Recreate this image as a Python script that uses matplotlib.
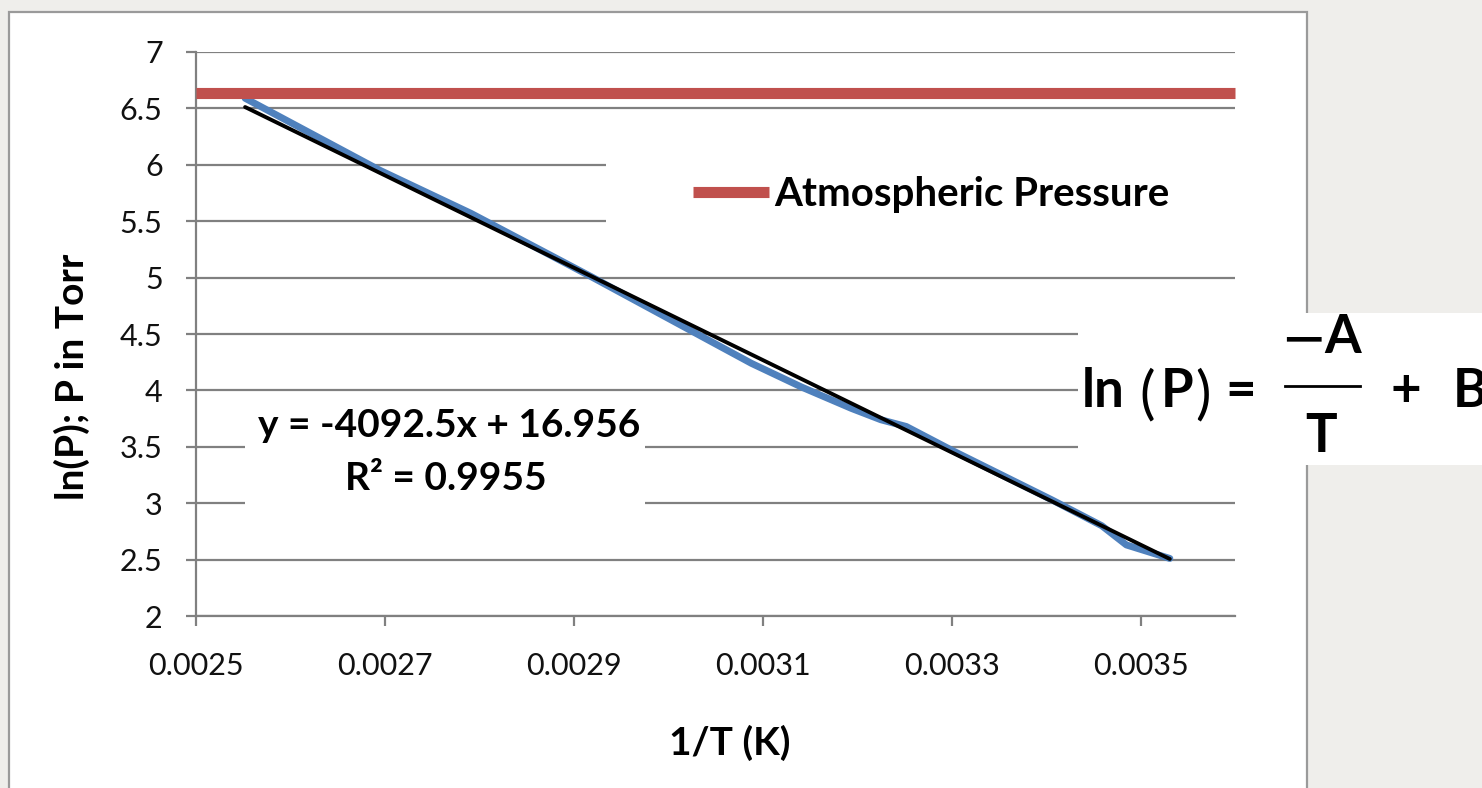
import matplotlib.pyplot as plt
from matplotlib.patches import Rectangle
from matplotlib.lines import Line2D
import numpy as np

W, H = 1482, 788

# measured vapor-pressure data: 1/T (1/K) and ln(P), P in Torr
inv_T = [0.002552, 0.002695, 0.002791, 0.002918, 0.003088, 0.003141, 0.003194,
         0.003225, 0.003252, 0.003300, 0.003406, 0.003459, 0.003485, 0.003531]
ln_P = [6.59, 5.95, 5.57, 5.01, 4.24, 4.03, 3.84,
        3.74, 3.68, 3.47, 3.03, 2.80, 2.63, 2.51]

# linear trendline from the chart label
slope = -4092.5
intercept = 16.956
r_squared = 0.9955

# atmospheric pressure line (ln 760 Torr)
atm_x = [0.0025, 0.0036]
atm_y = [6.633, 6.633]

x_ticks = [0.0025, 0.0027, 0.0029, 0.0031, 0.0033, 0.0035]
y_ticks = [2, 2.5, 3, 3.5, 4, 4.5, 5, 5.5, 6, 6.5, 7]

FONT = "Lato"
plt.rcParams['font.family'] = [FONT, 'DejaVu Sans']


def px(x, y):
    # pixel position -> figure fraction
    return x / W, 1 - y / H


fig = plt.figure(figsize=(W / 100, H / 100), dpi=100, facecolor='#efeeeb')

# white chart panel with grey border (behind the axes)
fig.patches.append(Rectangle(px(9, 800), (1307 - 9) / W, (800 - 12) / H,
                             transform=fig.transFigure, facecolor='white',
                             edgecolor='#9a9a9a', linewidth=1.6, zorder=-5))

x0, y1 = px(196, 52)
x1, y0 = px(1235, 616)
ax = fig.add_axes([x0, y0, x1 - x0, y1 - y0])
ax.set_facecolor('none')
ax.set_zorder(1)

ax.set_xlim(0.0025, 0.0036)
ax.set_ylim(2, 7)
ax.set_xticks(x_ticks)
ax.set_yticks(y_ticks)
ax.set_xticklabels([f"{t:.4f}" for t in x_ticks])
ax.set_yticklabels([f"{t:g}" for t in y_ticks])

for s in ['top', 'right']:
    ax.spines[s].set_visible(False)
for s in ['left', 'bottom']:
    ax.spines[s].set_color('#808080')
    ax.spines[s].set_linewidth(1.6)

ax.tick_params(axis='both', direction='out', length=7, width=1.6,
               color='#808080', labelsize=22, labelcolor='#111111')
ax.tick_params(axis='y', pad=17)
ax.tick_params(axis='x', pad=19)

ax.grid(axis='y', color='#808080', linewidth=1.6, zorder=0)
ax.set_axisbelow(True)

# white boxes behind legend and trendline label (they hide gridlines)
ax.add_patch(Rectangle((0.395, 0.65), 0.605, 0.17, transform=ax.transAxes,
                       facecolor='white', edgecolor='none', zorder=1))
ax.add_patch(Rectangle((0.047, 0.19), 0.385, 0.19, transform=ax.transAxes,
                       facecolor='white', edgecolor='none', zorder=1))

# data (smoothed blue line in the original)
ax.plot(inv_T, ln_P, color='#4f81bd', linewidth=5, solid_capstyle='round',
        solid_joinstyle='round', zorder=3)

# trendline over the data range
fit_x = np.array([min(inv_T), max(inv_T)])
ax.plot(fit_x, slope * fit_x + intercept, color='black', linewidth=2.8,
        solid_capstyle='round', zorder=4)

# atmospheric pressure
ax.plot(atm_x, atm_y, color='#c0504d', linewidth=8, solid_capstyle='butt',
        zorder=5, label='Atmospheric Pressure', clip_on=False)

leg = ax.legend(loc='center left', bbox_to_anchor=(0.478, 0.7465),
                frameon=False, borderpad=0, borderaxespad=0,
                handlelength=1.9, handletextpad=0.12,
                prop={'family': FONT, 'weight': 'bold', 'size': 29})

ax.text(0.0027675, 3.69, f"y = {slope}x + {intercept}", ha='center',
        va='center', fontsize=28, fontweight='bold', zorder=6)
ax.text(0.0027645, 3.22, f"R\u00b2 = {r_squared}", ha='center', va='center',
        fontsize=28, fontweight='bold', zorder=6)

# axis titles
fig.text(*px(730, 743), "1/T (K)", ha='center', va='center',
         fontsize=28, fontweight='bold')
fig.text(*px(72, 377), "ln(P); P in Torr", ha='center', va='center',
         rotation=90, fontsize=28, fontweight='bold')

# equation box on the right
fig.patches.append(Rectangle(px(1078, 465), (W - 1078) / W, (465 - 313) / H,
                             transform=fig.transFigure, facecolor='white',
                             edgecolor='none', zorder=5))
eq = dict(fontsize=38, fontweight='bold', va='baseline', zorder=6)
fig.text(*px(1082, 407), "ln", ha='left', **eq)
fig.text(*px(1147, 412), "(", ha='center', fontsize=42, va='baseline', zorder=6)
fig.text(*px(1177, 407), "P", ha='center', **eq)
fig.text(*px(1203, 412), ")", ha='center', fontsize=42, va='baseline', zorder=6)
fig.text(*px(1241, 407), "=", ha='center', **eq)
fig.text(*px(1303, 356), "\u2212", ha='center', va='baseline', fontsize=40,
         family='DejaVu Sans', zorder=6)
fig.text(*px(1343, 353), "A", ha='center', **eq)
fig.text(*px(1321, 452), "T", ha='center', **eq)
fig.text(*px(1406, 407), "+", ha='center', **eq)
fig.text(*px(1453, 407), "B", ha='left', **eq)
bx0, by = px(1285, 386)
bx1, _ = px(1360, 386)
fig.lines.append(Line2D([bx0, bx1], [by, by], transform=fig.transFigure,
                        color='black', linewidth=2, zorder=6))

fig.savefig('out.png', dpi=100, facecolor=fig.get_facecolor())
